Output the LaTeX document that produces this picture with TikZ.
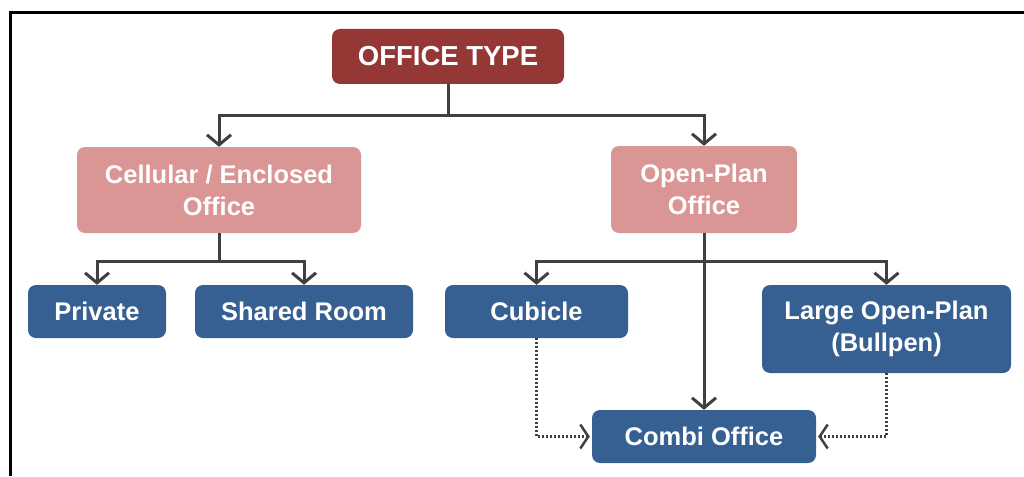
\documentclass[tikz,border=0pt]{standalone}
\usepackage{fontspec}
\setmainfont{Liberation Sans}
\usetikzlibrary{arrows.meta}
\definecolor{headred}{HTML}{953735}
\definecolor{midpink}{HTML}{D99694}
\definecolor{leafblue}{HTML}{366092}
\definecolor{linegray}{HTML}{404040}
\tikzset{
  box/.style={rounded corners=8pt, draw=none, text=white, align=center,
    font=\fontsize{25.5}{32}\selectfont\bfseries, inner sep=0pt},
  headbox/.style={box, fill=headred, font=\fontsize{27.5}{32}\selectfont\bfseries},
  midbox/.style={box, fill=midpink},
  leafbox/.style={box, fill=leafblue},
  conn/.style={draw=linegray, line width=3pt,
    -{Straight Barb[length=10pt,width=24pt,line width=3pt]}},
  dotconn/.style={draw=linegray, line width=2.5pt, dash pattern=on 2pt off 2pt,
    -{Straight Barb[length=8pt,width=24pt,line width=2.5pt,sep=2pt]}},
  frame/.style={draw=black, line width=3pt}
}
\begin{document}
\begin{tikzpicture}[x=1pt,y=-1pt]
  \useasboundingbox (0,0) rectangle (1024,476);
  % outer frame (top and left edges)
  \coordinate (fA) at (10,476);
  \coordinate (fB) at (10,13);
  \coordinate (fC) at (1024,13);
  \draw[frame] (fA) -- (fB) -- (fC);

  % nodes
  \node[headbox, minimum width=232pt, minimum height=55pt] (top) at (448,56.5) {OFFICE TYPE};
  \node[midbox, minimum width=284pt, minimum height=86pt] (cell) at (219,190) {Cellular / Enclosed\\Office};
  \node[midbox, minimum width=186pt, minimum height=87pt] (open) at (704,189.5) {Open-Plan\\Office};
  \node[leafbox, minimum width=138pt, minimum height=53pt] (priv) at (97,311.5) {Private};
  \node[leafbox, minimum width=218pt, minimum height=53pt] (shared) at (304,311.5) {Shared Room};
  \node[leafbox, minimum width=183pt, minimum height=53pt] (cub) at (536.5,311.5) {Cubicle};
  \node[leafbox, minimum width=249pt, minimum height=88pt] (large) at (886.5,329) {Large Open-Plan\\(Bullpen)};
  \node[leafbox, minimum width=224pt, minimum height=53pt] (combi) at (704,436.5) {Combi Office};

  % tree connectors
  \draw[conn] (top.south) -- ++(0,31) -| (cell.north);
  \draw[conn] (top.south) -- ++(0,31) -| (open.north);
  \draw[conn] (cell.south) -- ++(0,28) -| (priv.north);
  \draw[conn] (cell.south) -- ++(0,28) -| (shared.north);
  \draw[conn] (open.south) -- ++(0,28) -| (cub.north);
  \draw[conn] (open.south) -- ++(0,28) -| (large.north);
  \draw[conn] (open.south) -- (combi.north);

  % dotted links into the combi office
  \draw[dotconn] (cub.south) |- (combi.west);
  \draw[dotconn] (large.south) |- (combi.east);
\end{tikzpicture}
\end{document}
